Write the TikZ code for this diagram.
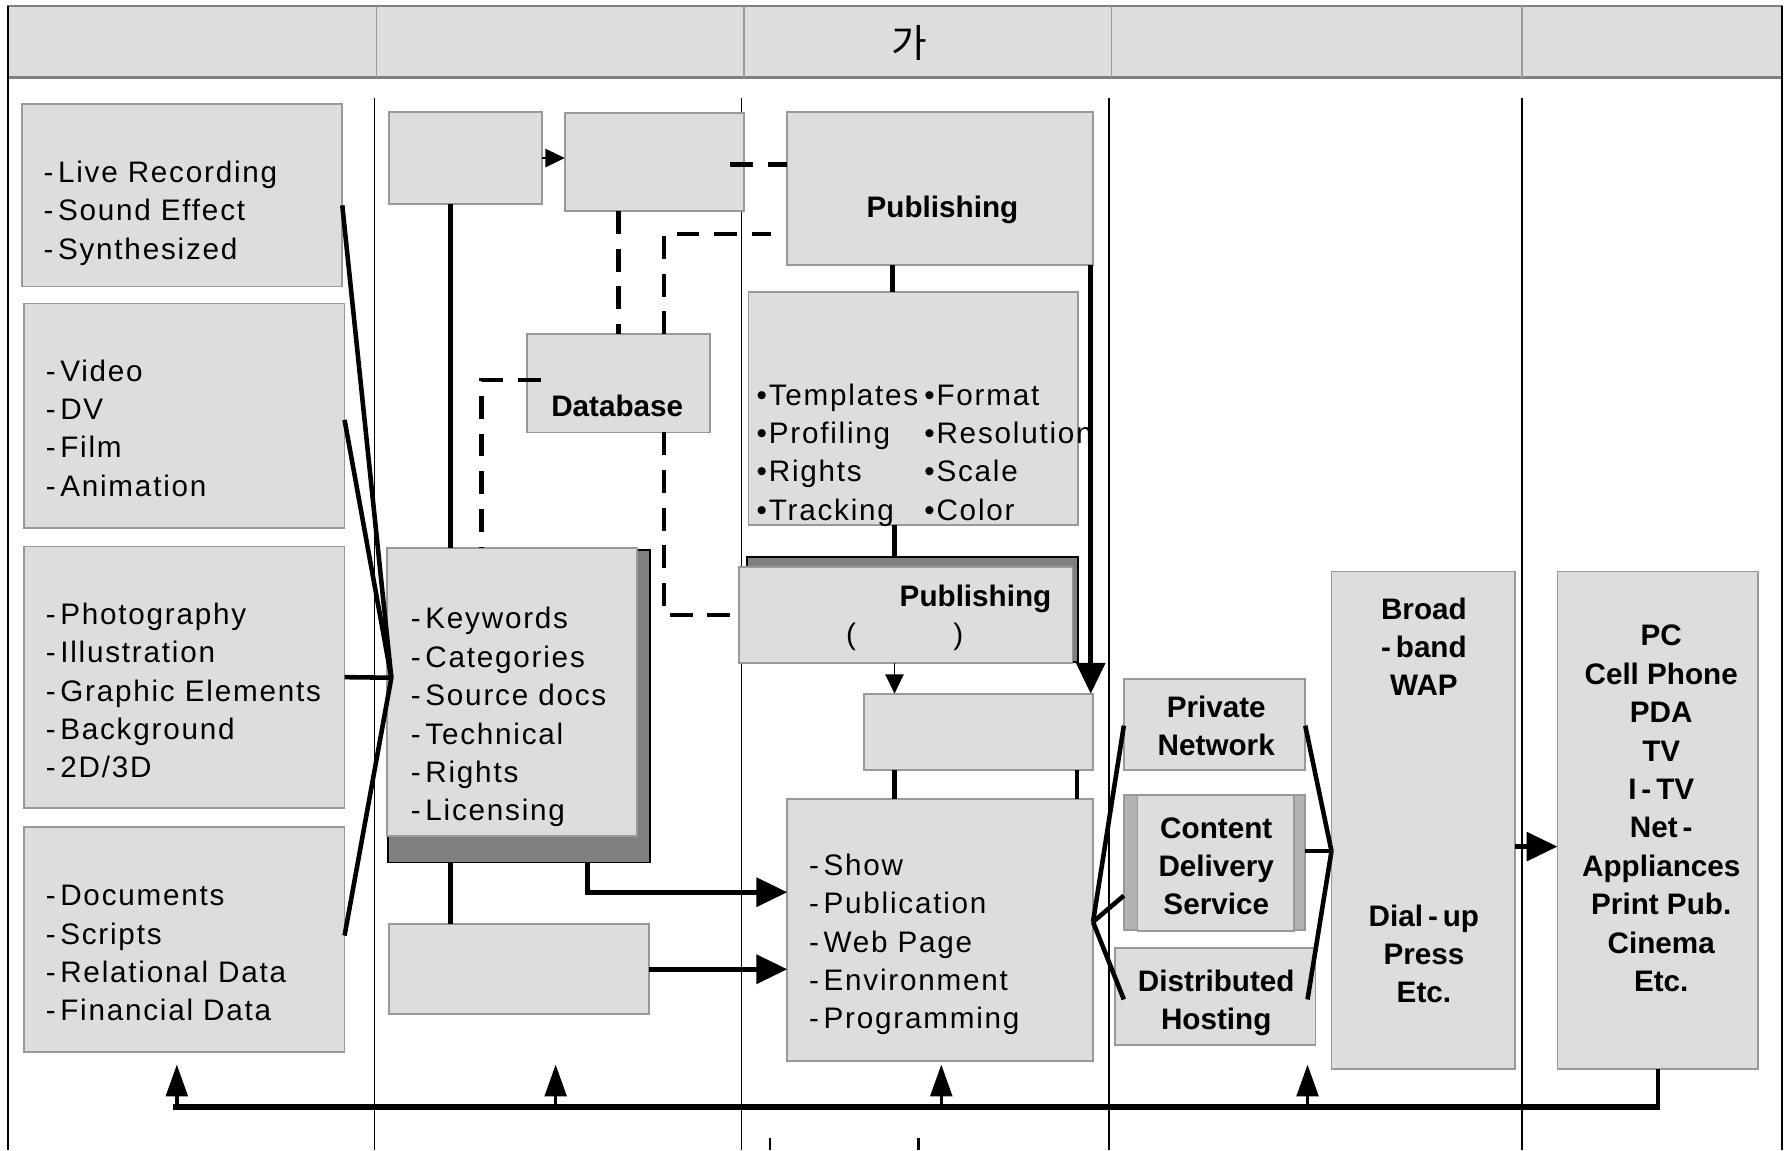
\documentclass[tikz,border=0pt]{standalone}
\usepackage{fontspec}
\setmainfont{Liberation Sans}
\newfontfamily\lsfont[LetterSpace=6]{Liberation Sans}
\newfontfamily\krfont{Noto Sans CJK KR}
\usetikzlibrary{arrows.meta,calc}
\definecolor{boxfill}{HTML}{DDDDDD}
\definecolor{boxline}{HTML}{999999}
\definecolor{shade}{HTML}{808080}
\definecolor{sidebar}{HTML}{B2B2B2}
\newcommand\gbox[6][]{\node[box,#1,minimum width={#5-#3},minimum height={#6-#4}] (#2) at (#3,#4) {};}
\newcommand\lst[5]{\foreach \itm [count=\i] in {#5} \node[lt] (#1\i) at (#2,{#3+(\i-1)*#4}) {-\hspace{4pt}\itm};}
\newcommand\clst[5]{\foreach \itm [count=\i] in {#5} \node[bt] (#1\i) at (#2,{#3+(\i-1)*#4}) {\itm};}
\begin{document}
\begin{tikzpicture}[x=1pt,y=-1pt,
  box/.style={draw=boxline,fill=boxfill,line width=1.5pt,inner sep=0pt,outer sep=0pt,anchor=north west},
  shadowbox/.style={box,draw=black,fill=shade},
  lt/.style={font=\lsfont\fontsize{26}{31}\selectfont,inner sep=0pt,anchor=base west},
  ct/.style={font=\lsfont\fontsize{26}{31}\selectfont,inner sep=0pt,anchor=base},
  bt/.style={font=\bfseries\fontsize{26}{31}\selectfont,inner sep=0pt,anchor=base},
  colline/.style={line width=1.2pt,black},
  conn/.style={line width=4pt},
  dashedline/.style={line width=4pt,dash pattern=on 20pt off 13pt},
  bigtip/.tip={Triangle[length=27pt,width=25pt]},
  smalltip/.tip={Triangle[length=17pt,width=16pt]},
  thinarrow/.style={line width=1.5pt,-smalltip},
  stem/.style={line width=3pt,-{Triangle[length=28pt,width=19pt]}}
]
\useasboundingbox (0,0) rectangle (1568,1008);

% header band
\node[box,draw=shade,line width=2pt,minimum width=1555,minimum height=63] (hdr) at (7,5) {};
\foreach \xx in {330,652,974,1334} \draw[boxline,line width=1.2pt] (\xx,5) -- (\xx,68);
\node[font=\krfont\fontsize{34}{40}\selectfont,inner sep=0pt] (ttl) at (797,38) {가};

% column lines
\draw[colline] (7,5) -- (7,1008);
\draw[colline] (1562,5) -- (1562,1008);
\foreach \xx in {328,650,972,1334} \draw[colline] (\xx,86) -- (\xx,1008);

% boxes
\gbox{aud}{19}{91}{300}{251}
\gbox{vid}{21}{266}{302}{463}
\gbox{img}{21}{479}{302}{708}
\gbox{doc}{21}{725}{302}{922}
\gbox{boxA}{341}{98}{475}{179}
\gbox{boxB}{495}{99}{652}{185}
\gbox{db}{462}{293}{622}{379}
\gbox[shadowbox]{metash}{340}{482}{570}{756}
\gbox{meta}{339}{480}{558}{733}
\gbox{boxC}{341}{810}{569}{889}
\gbox{pub1}{690}{98}{958}{232}
\gbox{fmt}{656}{256}{945}{460}
\gbox[shadowbox]{pub2sh}{655}{488}{945}{580}
\gbox{pub2}{648}{497}{940}{581}
\gbox{boxD}{757}{608}{958}{675}
\gbox{show}{690}{700}{958}{930}
\gbox{pn}{985}{595}{1144}{675}
\gbox[fill=sidebar]{cds}{985}{697}{1144}{815}
\gbox{cdsin}{997}{697}{1134}{816}
\gbox{dh}{977}{831}{1153}{916}
\gbox{bb}{1167}{501}{1328}{937}
\gbox{dev}{1365}{501}{1541}{937}

% left fan into metadata
\coordinate (mj) at (343,594);
\draw[conn] ([yshift=-89pt]aud.north east) -- (mj);
\draw[conn] ([yshift=-102pt]vid.north east) -- (mj);
\draw[conn] (img.east) -- (mj);
\draw[conn] ([yshift=-95pt]doc.north east) -- (mj);

% column 2 connectors
\draw[thinarrow] (boxA.east) -- (boxA.east -| boxB.west);
\coordinate (a1) at ([xshift=54pt]boxA.south west);
\draw[conn] (a1) -- (a1 |- meta.north);
\coordinate (a2) at ([xshift=55pt]metash.south west);
\draw[conn] (a2) -- (a2 |- boxC.north);
\coordinate (a3) at ([xshift=175pt]metash.south west);
\coordinate (a4) at ([yshift=-82pt]show.north west);
\draw[conn,-bigtip] (a3) |- (a4);
\draw[conn,-bigtip] (boxC.east) -- (boxC.east -| show.west);

% dashed links
\coordinate (d0) at ([xshift=-12pt]boxB.east);
\coordinate (d1) at ([yshift=-46pt]pub1.north west);
\draw[dashedline] (d0 |- d1) -- (d1);
\coordinate (d2) at ([xshift=-14pt,yshift=-107pt]pub1.north west);
\coordinate (d3) at ([xshift=120pt]db.north west);
\draw[dashedline] (d3) |- (d2);
\coordinate (d4) at ([xshift=47pt]boxB.south west);
\draw[dashedline] (d4) -- (d4 |- db.north);
\coordinate (d5) at ([xshift=120pt]db.south west);
\draw[dashedline] (d5) |- ([xshift=-8pt]pub2.west);
\coordinate (d6) at ([xshift=12pt,yshift=-40pt]db.north west);
\coordinate (d7) at ([xshift=83pt]meta.north west);
\draw[dashedline] (d6) -| (d7);

% column 3 connectors
\coordinate (c1) at ([xshift=92pt]pub1.south west);
\draw[conn] (c1) -- (c1 |- fmt.north);
\coordinate (c2) at ([xshift=128pt]fmt.south west);
\draw[conn] (c2) -- (c2 |- pub2sh.north);
\coordinate (c3) at ([xshift=136pt]pub2.south west);
\draw[thinarrow] (c3) -- (c3 |- boxD.north);
\draw[conn,-bigtip] ([xshift=-2pt]pub1.south east) -- ([xshift=-2pt]boxD.north east);
\coordinate (c4) at ([xshift=27pt]boxD.south west);
\draw[conn] (c4) -- (c4 |- show.north);
\coordinate (c5) at ([xshift=-14pt]boxD.south east);
\draw[conn] (c5) -- (c5 |- show.north);

% distribution fan
\coordinate (sj) at ([yshift=-108pt]show.north east);
\draw[conn] (sj) -- ([yshift=-41pt]pn.north west);
\draw[conn] (sj) -- ([yshift=-88pt]cds.north west);
\draw[conn] (sj) -- ([xshift=8pt,yshift=-45pt]dh.north west);
\coordinate (bj) at ([yshift=-245pt]bb.north west);
\draw[conn] ([yshift=-41pt]pn.north east) -- (bj);
\draw[conn] ([yshift=-49pt]cds.north east) -- (bj);
\draw[conn] ([xshift=-7pt,yshift=-45pt]dh.north east) -- (bj);
\coordinate (e1) at ([yshift=-241pt]bb.north east);
\draw[conn,-bigtip] (e1) -- (e1 -| dev.west);

% feedback loop
\coordinate (f0) at ([yshift=-33pt]dev.south);
\coordinate (t1) at (155,933);
\coordinate (t2) at (487,933);
\coordinate (t3) at (825,933);
\coordinate (t4) at (1146,933);
\draw[line width=4pt] (dev.south) -- ([yshift=-2pt]f0);
\draw[line width=5.5pt] ([xshift=2pt]f0) -- ([xshift=-3pt]f0 -| t1);
\foreach \tt in {t1,t2,t3,t4} \draw[stem] (\tt |- f0) -- (\tt);

% cut-off marks at bottom
\draw[line width=2pt] (675,997) -- (675,1008);
\draw[line width=2pt] (805,997) -- (805,1008);

% texts
\lst{au}{38}{160}{33.7}{Live Recording,Sound Effect,Synthesized}
\lst{vi}{40}{334}{33.7}{Video,DV,Film,Animation}
\lst{im}{40}{547}{33.7}{Photography,Illustration,Graphic Elements,Background,2D/3D}
\lst{dc}{40}{794}{33.6}{Documents,Scripts,Relational Data,Financial Data}
\lst{mt}{360}{551}{33.7}{Keywords,Categories,Source docs,Technical,Rights,Licensing}
\lst{sh}{709}{767}{33.7}{Show,Publication,Web Page,Environment,Programming}
\foreach \aa/\bb [count=\i] in {Templates/Format,Profiling/Resolution,Rights/Scale,Tracking/Color} {
  \node[lt] (fl\i) at (663,{355+(\i-1)*33.7}) {•\aa};
  \node[lt] (fr\i) at (810,{355+(\i-1)*33.7}) {•\bb};
}
\node[bt] (p1t) at (826,191) {Publishing};
\node[bt] (dbt) at (541,365) {Database};
\node[bt] (p2t) at (855,532) {Publishing};
\node[ct] (p2a) at (746,565) {(};
\node[ct] (p2b) at (840,565) {)};
\clst{pnt}{1066}{629}{33.3}{Private,Network}
\clst{cdt}{1066}{735}{33.3}{Content,Delivery,Service}
\clst{dht}{1066}{869}{33.3}{Distributed,Hosting}
\clst{bbt}{1248}{543}{33.3}{Broad,-\,band,WAP}
\clst{bbu}{1248}{812}{33.3}{Dial\,-\,up,Press,Etc.}
\clst{dvt}{1456}{566}{33.67}{PC,Cell Phone,PDA,TV,I\,-\,TV,Net\,-,Appliances,Print Pub.,Cinema,Etc.}
\end{tikzpicture}
\end{document}
